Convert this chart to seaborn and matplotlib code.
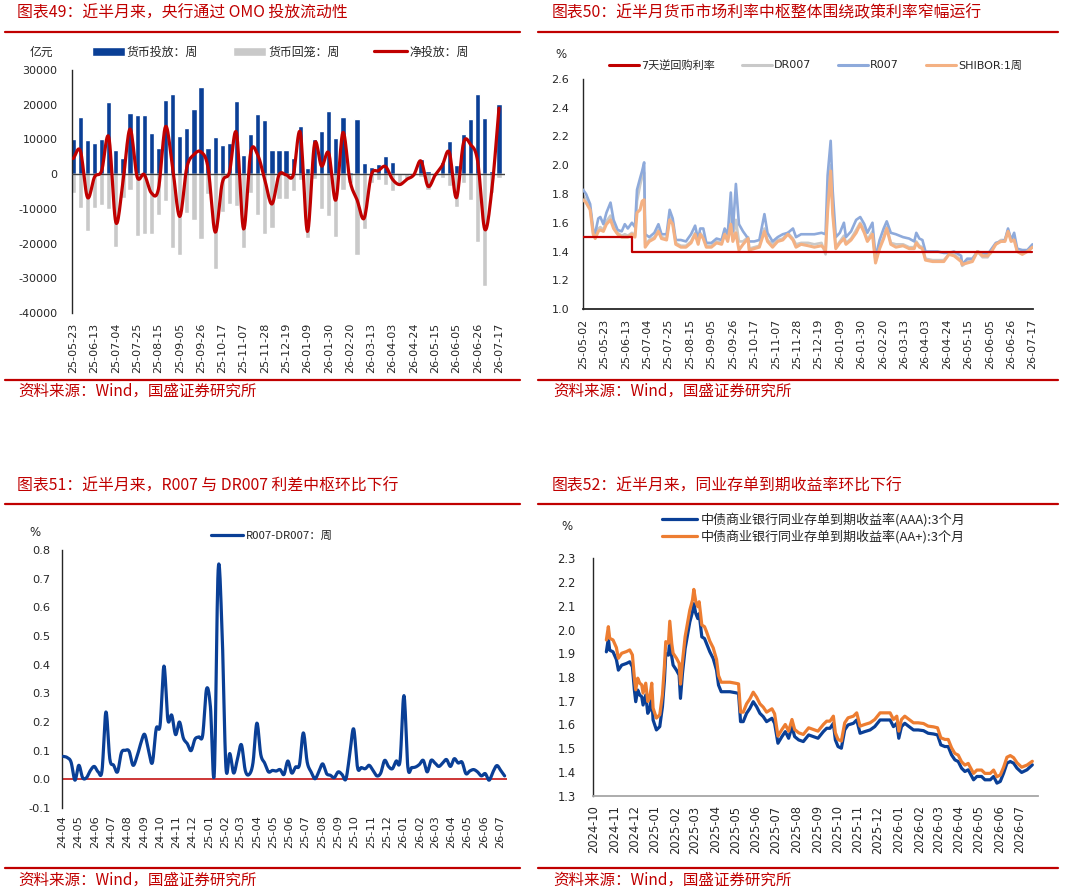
import numpy as np
import pandas as pd
import matplotlib
matplotlib.use("Agg")
import matplotlib.pyplot as plt
import matplotlib.dates as mdates
from matplotlib.ticker import FormatStrFormatter
from matplotlib.patches import Patch
from matplotlib.lines import Line2D
import seaborn as sns

sns.set_style("white")
plt.rcParams["font.family"] = ["DejaVu Sans", "Noto Sans CJK SC"]
plt.rcParams["axes.unicode_minus"] = False

# ---------------- data: panel 49 (weekly OMO, 100 mn yuan) ----------------
week_start = "2025-05-23"
supply = [10000, 16500, 9800, 9000, 10000, 20800, 7000, 4700, 17700, 17000,
          17100, 11800, 7600, 21300, 23200, 11100, 13200, 18800, 25200, 7600,
          10600, 8300, 9100, 21200, 5400, 11700, 17200, 15600, 7000, 7000,
          7000, 4700, 13800, 1800, 10000, 12300, 18100, 10500, 16500, 700,
          15800, 3100, 2200, 2800, 5200, 3400, 300, 300, 300, 4500,
          1000, 200, 3500, 9600, 2600, 11600, 16000, 23200, 16300, 1000,
          20100]
withdraw = [-5500, -9800, -16500, -9800, -9000, -10100, -20900, -6900, -4700, -17800,
            -17200, -17200, -11900, -7600, -21300, -23300, -11300, -13200, -18800, -5800,
            -27300, -10800, -8600, -9300, -21200, -5500, -11700, -17300, -15600, -7200,
            -7200, -5000, -1800, -18300, -1300, -10000, -12000, -18000, -4500, -2600,
            -23200, -15800, -2500, -1800, -3000, -4900, -3300, -1800, -500, -700,
            -4500, -500, -1000, -3300, -9400, -2600, -7500, -19500, -32200, -5400,
            -1100]

# ---------------- data: panel 50 (daily money-market rates, %) ----------------
p50_start = "2025-05-02"
p50_days = [0, 3, 7, 10, 12, 15, 17, 20, 23, 27,
            30, 34, 38, 41, 44, 48, 51, 53, 56, 58,
            60, 61, 65, 70, 74, 77, 82, 85, 88, 91,
            96, 101, 106, 110, 113, 115, 118, 121, 126, 131,
            136, 139, 142, 145, 147, 150, 153, 157, 162, 163,
            168, 173, 178, 181, 186, 191, 196, 201, 206, 209,
            214, 221, 227, 234, 238, 240, 243, 245, 248, 252,
            256, 258, 263, 268, 272, 276, 279, 284, 287, 291,
            295, 298, 302, 307, 314, 320, 325, 327, 330, 333,
            336, 343, 348, 354, 359, 364, 371, 372, 377, 382,
            387, 392, 397, 400, 405, 410, 414, 417, 420, 423,
            426, 431, 436, 441]
r007 = [1.83, 1.80, 1.73, 1.55, 1.53, 1.63, 1.64, 1.59, 1.67, 1.74,
        1.62, 1.55, 1.54, 1.59, 1.56, 1.60, 1.57, 1.83, 1.91, 1.96,
        2.02, 1.52, 1.50, 1.53, 1.59, 1.52, 1.52, 1.69, 1.63, 1.48,
        1.48, 1.47, 1.52, 1.58, 1.48, 1.56, 1.56, 1.46, 1.46, 1.49,
        1.48, 1.56, 1.52, 1.81, 1.54, 1.87, 1.59, 1.54, 1.49, 1.47,
        1.47, 1.48, 1.66, 1.53, 1.47, 1.50, 1.52, 1.53, 1.56, 1.50,
        1.52, 1.52, 1.52, 1.53, 1.52, 1.93, 2.17, 1.82, 1.50, 1.53,
        1.60, 1.50, 1.54, 1.62, 1.64, 1.59, 1.53, 1.60, 1.36, 1.48,
        1.56, 1.61, 1.53, 1.52, 1.50, 1.49, 1.47, 1.53, 1.49, 1.48,
        1.40, 1.40, 1.40, 1.39, 1.39, 1.40, 1.37, 1.31, 1.35, 1.35,
        1.40, 1.39, 1.38, 1.41, 1.46, 1.47, 1.48, 1.56, 1.48, 1.53,
        1.42, 1.41, 1.41, 1.45]
dr007 = [1.79, 1.76, 1.70, 1.53, 1.50, 1.56, 1.57, 1.55, 1.61, 1.65,
         1.58, 1.53, 1.51, 1.52, 1.51, 1.53, 1.51, 1.75, 1.86, 1.92,
         1.95, 1.45, 1.48, 1.50, 1.55, 1.50, 1.49, 1.64, 1.60, 1.46,
         1.44, 1.44, 1.47, 1.53, 1.46, 1.53, 1.50, 1.44, 1.44, 1.47,
         1.46, 1.53, 1.48, 1.66, 1.48, 1.62, 1.47, 1.47, 1.50, 1.42,
         1.43, 1.44, 1.56, 1.48, 1.45, 1.48, 1.49, 1.53, 1.49, 1.45,
         1.46, 1.46, 1.45, 1.46, 1.38, 1.75, 2.00, 1.70, 1.43, 1.47,
         1.51, 1.46, 1.49, 1.55, 1.60, 1.55, 1.48, 1.54, 1.33, 1.43,
         1.50, 1.57, 1.46, 1.45, 1.45, 1.43, 1.43, 1.47, 1.44, 1.43,
         1.35, 1.34, 1.34, 1.34, 1.38, 1.38, 1.34, 1.30, 1.33, 1.34,
         1.40, 1.36, 1.36, 1.40, 1.45, 1.48, 1.48, 1.55, 1.48, 1.49,
         1.40, 1.39, 1.40, 1.43]
shibor1w = [1.76, 1.74, 1.69, 1.52, 1.49, 1.54, 1.55, 1.54, 1.59, 1.62,
            1.56, 1.52, 1.50, 1.50, 1.50, 1.52, 1.50, 1.67, 1.69, 1.75,
            1.76, 1.43, 1.47, 1.49, 1.54, 1.49, 1.48, 1.62, 1.59, 1.45,
            1.43, 1.43, 1.46, 1.52, 1.45, 1.52, 1.49, 1.43, 1.43, 1.46,
            1.45, 1.52, 1.47, 1.59, 1.47, 1.53, 1.41, 1.45, 1.49, 1.41,
            1.42, 1.43, 1.54, 1.47, 1.43, 1.47, 1.48, 1.52, 1.48, 1.43,
            1.45, 1.44, 1.43, 1.44, 1.41, 1.68, 1.96, 1.66, 1.42, 1.46,
            1.49, 1.45, 1.48, 1.53, 1.59, 1.53, 1.47, 1.52, 1.32, 1.42,
            1.49, 1.56, 1.45, 1.43, 1.44, 1.42, 1.42, 1.46, 1.43, 1.42,
            1.34, 1.33, 1.33, 1.33, 1.38, 1.37, 1.33, 1.31, 1.32, 1.33,
            1.40, 1.37, 1.37, 1.39, 1.45, 1.47, 1.47, 1.54, 1.47, 1.48,
            1.40, 1.38, 1.40, 1.43]
policy_dates = ["2025-05-02", "2025-06-19", "2026-07-17"]
policy_rate = [1.50, 1.40, 1.40]

# ---------------- data: panel 51 (weekly R007-DR007, %) ----------------
p51_first, p51_last = "2024-04-03", "2026-07-10"
spread = [0.080, 0.076, 0.060, -0.003, 0.049, 0.005, 0.006, 0.031, 0.045, 0.026,
          0.031, 0.235, 0.072, 0.049, 0.026, 0.093, 0.101, 0.098, 0.049, 0.078,
          0.125, 0.157, 0.101, 0.058, 0.177, 0.189, 0.395, 0.208, 0.224, 0.156,
          0.200, 0.144, 0.125, 0.100, 0.140, 0.148, 0.154, 0.315, 0.253, 0.020,
          0.730, 0.520, 0.043, 0.090, 0.022, 0.072, 0.121, 0.031, 0.017, 0.058,
          0.196, 0.087, 0.057, 0.026, 0.031, 0.029, 0.034, 0.017, 0.064, 0.022,
          0.043, 0.051, 0.162, 0.060, 0.026, 0.002, 0.026, 0.054, 0.020, 0.014,
          0.006, 0.026, 0.017, 0.001, 0.087, 0.176, 0.041, 0.041, 0.037, 0.049,
          0.031, 0.012, 0.022, 0.066, 0.045, 0.037, 0.064, 0.066, 0.292, 0.043,
          0.041, 0.043, 0.052, 0.066, 0.026, 0.066, 0.057, 0.045, 0.057, 0.069,
          0.045, 0.072, 0.057, 0.060, 0.020, 0.029, 0.034, 0.026, 0.012, 0.020,
          -0.003, 0.026, 0.048, 0.031, 0.012]

# ---------------- data: panel 52 (3M NCD yields, %) ----------------
p52_start = "2024-09-30"
p52_days = [20, 23, 25, 30, 35, 38, 43, 50, 55, 59,
            62, 64, 67, 70, 73, 75, 79, 82, 85, 88,
            90, 95, 100, 104, 107, 109, 113, 115, 118, 120,
            125, 129, 131, 134, 138, 142, 145, 149, 151, 154,
            157, 159, 163, 167, 170, 175, 180, 185, 188, 192,
            198, 205, 213, 218, 221, 225, 230, 235, 240, 245,
            250, 255, 260, 268, 272, 277, 283, 288, 293, 298,
            302, 308, 315, 323, 330, 337, 345, 350, 355, 360,
            363, 367, 372, 377, 382, 390, 395, 400, 407, 415,
            422, 430, 437, 445, 450, 455, 458, 462, 467, 472,
            480, 487, 495, 502, 510, 516, 521, 527, 532, 537,
            542, 547, 552, 557, 562, 570, 575, 582, 587, 595,
            600, 605, 610, 615, 620, 625, 630, 635, 642, 650,
            658]
ncd_aaa = [1.906, 1.962, 1.913, 1.906, 1.874, 1.829, 1.850, 1.857, 1.864, 1.843,
           1.745, 1.696, 1.745, 1.724, 1.717, 1.682, 1.724, 1.647, 1.661, 1.724,
           1.619, 1.577, 1.591, 1.675, 1.787, 1.899, 1.892, 1.955, 1.885, 1.850,
           1.829, 1.808, 1.710, 1.815, 1.920, 1.983, 2.032, 2.074, 2.109, 2.067,
           2.046, 2.067, 1.969, 1.962, 1.941, 1.906, 1.878, 1.829, 1.766, 1.738,
           1.738, 1.738, 1.734, 1.731, 1.612, 1.612, 1.647, 1.668, 1.696, 1.675,
           1.647, 1.633, 1.612, 1.626, 1.605, 1.521, 1.549, 1.570, 1.542, 1.591,
           1.549, 1.535, 1.528, 1.556, 1.549, 1.542, 1.570, 1.584, 1.584, 1.605,
           1.535, 1.507, 1.500, 1.577, 1.598, 1.605, 1.619, 1.563, 1.570, 1.577,
           1.591, 1.619, 1.619, 1.619, 1.591, 1.605, 1.542, 1.591, 1.605, 1.594,
           1.577, 1.577, 1.574, 1.563, 1.560, 1.556, 1.514, 1.507, 1.507, 1.472,
           1.451, 1.444, 1.416, 1.402, 1.409, 1.367, 1.381, 1.381, 1.367, 1.367,
           1.381, 1.353, 1.360, 1.395, 1.437, 1.444, 1.437, 1.416, 1.398, 1.409,
           1.430]
ncd_aap = [1.956, 2.012, 1.963, 1.956, 1.924, 1.879, 1.900, 1.907, 1.914, 1.893,
           1.795, 1.746, 1.795, 1.774, 1.767, 1.732, 1.774, 1.697, 1.711, 1.774,
           1.669, 1.627, 1.641, 1.725, 1.847, 1.949, 1.942, 2.035, 1.940, 1.900,
           1.879, 1.858, 1.770, 1.865, 1.970, 2.033, 2.082, 2.124, 2.169, 2.117,
           2.096, 2.117, 2.019, 2.012, 1.991, 1.951, 1.923, 1.874, 1.806, 1.778,
           1.778, 1.778, 1.774, 1.771, 1.652, 1.652, 1.687, 1.708, 1.736, 1.715,
           1.687, 1.673, 1.652, 1.666, 1.645, 1.551, 1.579, 1.600, 1.572, 1.621,
           1.579, 1.565, 1.558, 1.586, 1.579, 1.572, 1.600, 1.614, 1.614, 1.635,
           1.565, 1.537, 1.530, 1.607, 1.628, 1.635, 1.649, 1.593, 1.600, 1.607,
           1.621, 1.649, 1.649, 1.649, 1.621, 1.635, 1.572, 1.621, 1.635, 1.624,
           1.607, 1.607, 1.604, 1.593, 1.590, 1.586, 1.544, 1.537, 1.537, 1.502,
           1.478, 1.471, 1.443, 1.429, 1.436, 1.394, 1.408, 1.408, 1.394, 1.394,
           1.408, 1.380, 1.387, 1.420, 1.462, 1.469, 1.460, 1.439, 1.420, 1.429,
           1.445]

# ---------------- text ----------------
titles = ["图表49：近半月来，央行通过 OMO 投放流动性",
          "图表50：近半月货币市场利率中枢整体围绕政策利率窄幅运行",
          "图表51：近半月来，R007 与 DR007 利差中枢环比下行",
          "图表52：近半月来，同业存单到期收益率环比下行"]
source = "资料来源：Wind，国盛证券研究所"
leg49 = ["货币投放：周", "货币回笼：周", "净投放：周"]
leg50 = ["7天逆回购利率", "DR007", "R007", "SHIBOR:1周"]
leg51 = ["R007-DR007：周"]
leg52 = ["中债商业银行同业存单到期收益率(AAA):3个月",
         "中债商业银行同业存单到期收益率(AA+):3个月"]

# ---------------- styling ----------------
RED = "#C00000"
NAVY = "#0A3F96"
GREY = "#C9C9C9"
LBLUE = "#8EAADB"
LORANGE = "#F4B183"
ORANGE = "#ED7D31"
SPINE = "#262626"
CJK = ["Noto Sans CJK SC", "DejaVu Sans"]
W, H = 1065, 893

fig = plt.figure(figsize=(W / 100, H / 100), dpi=100)


def ax_at(l, t, r, b):
    return fig.add_axes([l / W, 1 - b / H, (r - l) / W, (b - t) / H])


def fx(x):
    return x / W


def fy(y):
    return 1 - y / H


def hline(x1, x2, y, lw=1.6):
    fig.add_artist(Line2D([fx(x1), fx(x2)], [fy(y), fy(y)], color=RED, lw=lw,
                          transform=fig.transFigure))


def smooth(x, y, n=12):
    x = np.asarray(x, float)
    y = np.asarray(y, float)
    mx, my = np.gradient(x), np.gradient(y)
    t = np.linspace(0, 1, n, endpoint=False)[:, None]
    h00 = 2 * t**3 - 3 * t**2 + 1
    h10 = t**3 - 2 * t**2 + t
    h01 = -2 * t**3 + 3 * t**2
    h11 = t**3 - t**2
    X = (h00 * x[:-1] + h10 * mx[:-1] + h01 * x[1:] + h11 * mx[1:]).T.ravel()
    Y = (h00 * y[:-1] + h10 * my[:-1] + h01 * y[1:] + h11 * my[1:]).T.ravel()
    return np.append(X, x[-1]), np.append(Y, y[-1])


def style_axes(ax, bottom=False, bottom_color=SPINE):
    for s in ["top", "right"]:
        ax.spines[s].set_visible(False)
    ax.spines["left"].set_color(SPINE)
    ax.spines["left"].set_linewidth(1.0)
    ax.spines["bottom"].set_visible(bottom)
    ax.spines["bottom"].set_color(bottom_color)
    ax.spines["bottom"].set_linewidth(1.3)
    ax.set_xlabel("")
    ax.set_ylabel("")
    ax.grid(False)


# titles, rules, sources
for (x, y), t in zip([(17, 13), (552, 13), (17, 486), (552, 486)], titles):
    fig.text(fx(x), fy(y), t, color=RED, fontsize=11.4, family=CJK, va="center", ha="left")
for (x1, x2) in [(5, 520), (538, 1058)]:
    hline(x1, x2, 32)
    hline(x1, x2, 380)
    hline(x1, x2, 503.5)
    hline(x1, x2, 868.3)
for (x, y) in [(18, 391.5), (553, 391.5), (18, 880), (553, 880)]:
    fig.text(fx(x), fy(y), source, color=RED, fontsize=11.2, family=CJK, va="center", ha="left")

# ======================= panel 49 =======================
ax1 = ax_at(72, 70, 505, 313)
idx = np.arange(len(supply))
sns.barplot(x=idx, y=supply, ax=ax1, color=NAVY, width=0.74, native_scale=True,
            errorbar=None, saturation=1, zorder=2)
sns.barplot(x=idx, y=withdraw, ax=ax1, color=GREY, width=0.74, native_scale=True,
            errorbar=None, saturation=1, zorder=2)
net = np.array(supply) + np.array(withdraw)
sx, sy = smooth(idx, net)
ax1.axhline(0, color="#404040", lw=1.0, zorder=3)
sns.lineplot(x=sx, y=sy, ax=ax1, color=RED, lw=2.3, sort=False, estimator=None, zorder=4)
ax1.set_xlim(-0.18, 60.85)
ax1.set_ylim(-40000, 30000)
ax1.set_yticks(np.arange(-40000, 30001, 10000))
wk = pd.date_range(week_start, periods=len(supply), freq="7D")
ax1.set_xticks(idx[::3])
ax1.set_xticklabels(wk[::3].strftime("%y-%m-%d"), rotation=90)
style_axes(ax1)
ax1.tick_params(axis="x", length=0, pad=7, labelsize=8)
ax1.tick_params(axis="y", direction="in", length=3, pad=10.5, labelsize=8, color=SPINE)
fig.text(fx(41), fy(52), "亿元", fontsize=8.5, family=CJK, ha="center", va="center")
h49 = [Patch(facecolor=NAVY), Patch(facecolor=GREY), Line2D([], [], color=RED, lw=2.3)]
ax1.legend(h49, leg49, loc="center left", bbox_to_anchor=(fx(91.7), fy(52)),
           bbox_transform=fig.transFigure, ncol=3, frameon=False,
           prop={"family": CJK, "size": 8.6}, handlelength=2.75, handleheight=0.75,
           handletextpad=0.2, columnspacing=2.9, borderpad=0, borderaxespad=0)

# ======================= panel 50 =======================
ax2 = ax_at(583, 79, 1033, 309)
d50 = pd.Timestamp(p50_start) + pd.to_timedelta(p50_days, unit="D")
sns.lineplot(x=d50, y=dr007, ax=ax2, color=GREY, lw=1.9, estimator=None, zorder=2)
sns.lineplot(x=d50, y=r007, ax=ax2, color=LBLUE, lw=1.9, estimator=None, zorder=3)
sns.lineplot(x=d50, y=shibor1w, ax=ax2, color=LORANGE, lw=2.2, estimator=None, zorder=4)
sns.lineplot(x=pd.to_datetime(policy_dates), y=policy_rate, ax=ax2, color=RED, lw=1.6,
             estimator=None, drawstyle="steps-post", zorder=5)
x0 = pd.Timestamp(p50_start)
ax2.set_xlim(mdates.date2num(x0), mdates.date2num(x0) + 441.5)
ax2.set_ylim(1.0, 2.6)
ax2.set_yticks(np.arange(1.0, 2.61, 0.2))
ax2.yaxis.set_major_formatter(FormatStrFormatter("%.1f"))
ticks50 = pd.date_range(p50_start, "2026-07-17", freq="21D")
ax2.set_xticks(mdates.date2num(ticks50))
ax2.set_xticklabels(ticks50.strftime("%y-%m-%d"), rotation=90)
style_axes(ax2, bottom=True)
ax2.tick_params(axis="x", length=0, pad=7, labelsize=8)
ax2.tick_params(axis="y", direction="in", length=3, pad=10, labelsize=8, color=SPINE)
fig.text(fx(561), fy(55), "%", fontsize=8.5, ha="center", va="center")
h50 = [Line2D([], [], color=RED, lw=2.2), Line2D([], [], color=GREY, lw=2.2),
       Line2D([], [], color=LBLUE, lw=2.2), Line2D([], [], color=LORANGE, lw=2.2)]
ax2.legend(h50, leg50, loc="center left", bbox_to_anchor=(fx(609), fy(65)),
           bbox_transform=fig.transFigure, ncol=4, frameon=False, fontsize=8,
           handlelength=2.7, handletextpad=0.2, columnspacing=2.4, borderpad=0,
           borderaxespad=0)

# ======================= panel 51 =======================
ax3 = ax_at(62, 550, 507, 808)
d51 = pd.date_range(p51_first, p51_last, periods=len(spread))
tx, ty = smooth(mdates.date2num(d51), spread)
ax3.axhline(0, color=RED, lw=1.1, zorder=2)
sns.lineplot(x=tx, y=ty, ax=ax3, color=NAVY, lw=2.3, sort=False, estimator=None, zorder=3)
x3 = mdates.date2num(pd.Timestamp("2024-03-31 12:00"))
ax3.set_xlim(x3, x3 + 835)
ax3.set_ylim(-0.1, 0.8)
ax3.set_yticks(np.arange(-0.1, 0.81, 0.1))
ax3.yaxis.set_major_formatter(FormatStrFormatter("%.1f"))
ticks51 = pd.date_range("2024-04-01", "2026-07-01", freq="MS")
ax3.set_xticks(mdates.date2num(ticks51))
ax3.set_xticklabels(ticks51.strftime("%y-%m"), rotation=90)
style_axes(ax3)
ax3.tick_params(axis="x", length=0, pad=5, labelsize=8.2)
ax3.tick_params(axis="y", direction="in", length=3, pad=8.5, labelsize=8.2, color=SPINE)
fig.text(fx(35), fy(532), "%", fontsize=8.5, ha="center", va="center")
ax3.legend([Line2D([], [], color=NAVY, lw=2.3)], leg51, loc="center left",
           bbox_to_anchor=(fx(211), fy(536)), bbox_transform=fig.transFigure,
           frameon=False, prop={"family": CJK, "size": 8.2}, handlelength=2.8,
           handletextpad=0.25, borderpad=0, borderaxespad=0)

# ======================= panel 52 =======================
ax4 = ax_at(593, 558.3, 1038, 795.7)
d52 = pd.Timestamp(p52_start) + pd.to_timedelta(p52_days, unit="D")
sns.lineplot(x=d52, y=ncd_aaa, ax=ax4, color=NAVY, lw=2.3, estimator=None, zorder=2)
sns.lineplot(x=d52, y=ncd_aap, ax=ax4, color=ORANGE, lw=2.3, estimator=None, zorder=3)
x4 = mdates.date2num(pd.Timestamp(p52_start))
ax4.set_xlim(x4, x4 + 666.5)
ax4.set_ylim(1.3, 2.3)
ax4.set_yticks(np.arange(1.3, 2.31, 0.1))
ax4.yaxis.set_major_formatter(FormatStrFormatter("%.1f"))
ticks52 = pd.date_range("2024-10-01", "2026-07-01", freq="MS")
ax4.set_xticks(mdates.date2num(ticks52))
ax4.set_xticklabels(ticks52.strftime("%Y-%m"), rotation=90)
style_axes(ax4, bottom=True, bottom_color="#A6A6A6")
ax4.tick_params(axis="x", length=0, pad=7, labelsize=8.3)
ax4.tick_params(axis="y", direction="in", length=3, pad=12.5, labelsize=8.3, color=SPINE)
fig.text(fx(567), fy(527), "%", fontsize=8.5, ha="center", va="center")
h52 = [Line2D([], [], color=NAVY, lw=2.3), Line2D([], [], color=ORANGE, lw=2.3)]
ax4.legend(h52, leg52, loc="center left", bbox_to_anchor=(fx(662), fy(528)),
           bbox_transform=fig.transFigure, frameon=False,
           prop={"family": CJK, "size": 9.4}, handlelength=2.7, handletextpad=0.25,
           labelspacing=0.25, borderpad=0, borderaxespad=0)

fig.savefig("out.png", dpi=100, facecolor="white")
